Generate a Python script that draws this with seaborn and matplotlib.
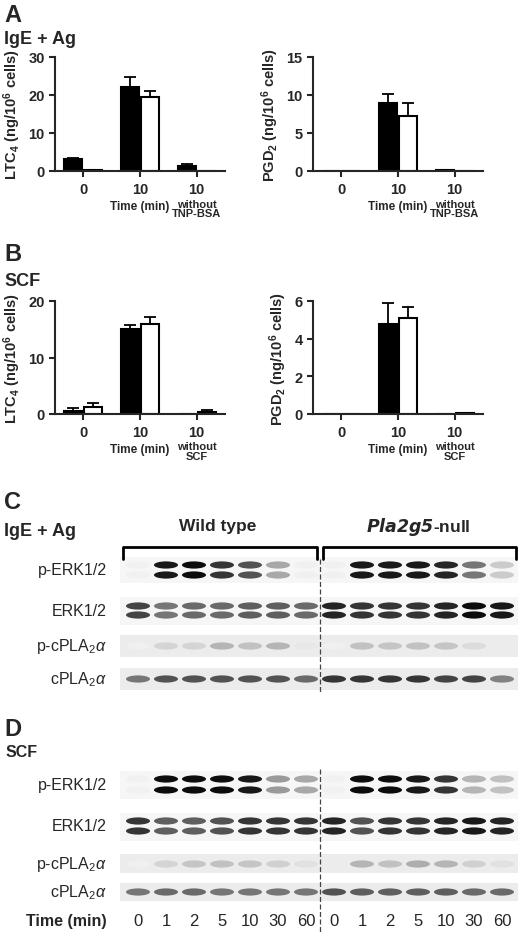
import matplotlib
matplotlib.use("Agg")
import matplotlib.pyplot as plt
import numpy as np
import pandas as pd
import seaborn as sns
from matplotlib.path import Path

# ---- bar chart data ----
groups = ["0", "10", "10 w/o"]
genotypes = ["WT", "null"]

ltc4_ige = [3.2, 22.0, 1.3]
ltc4_ige_null = [0.2, 19.5, 0.0]
ltc4_ige_err = [0.3, 2.8, 0.5]
ltc4_ige_null_err = [0.0, 1.6, 0.0]

pgd2_ige = [0.0, 9.0, 0.1]
pgd2_ige_null = [0.0, 7.3, 0.0]
pgd2_ige_err = [0.0, 1.1, 0.0]
pgd2_ige_null_err = [0.0, 1.6, 0.0]

ltc4_scf = [0.6, 15.0, 0.0]
ltc4_scf_null = [1.3, 16.0, 0.4]
ltc4_scf_err = [0.5, 0.7, 0.0]
ltc4_scf_null_err = [0.6, 1.1, 0.3]

pgd2_scf = [0.0, 4.8, 0.0]
pgd2_scf_null = [0.0, 5.1, 0.05]
pgd2_scf_err = [0.0, 1.1, 0.0]
pgd2_scf_null_err = [0.0, 0.6, 0.0]

# ---- blot data (band intensity 0..1, 14 lanes: WT 7 + null 7) ----
time_labels = ["0", "1", "2", "5", "10", "30", "60"] * 2

c_perk = [0.02, 0.95, 1.0, 0.85, 0.75, 0.4, 0.03, 0.03, 0.95, 0.95, 0.95, 0.9, 0.6, 0.25]
c_erk = [0.8, 0.6, 0.65, 0.65, 0.7, 0.7, 0.65, 0.9, 0.85, 0.85, 0.85, 0.9, 1.0, 0.95]
c_pcpla = [0.03, 0.2, 0.2, 0.35, 0.3, 0.35, 0.08, 0.03, 0.3, 0.28, 0.3, 0.28, 0.15, 0.05]
c_cpla = [0.6, 0.75, 0.75, 0.75, 0.75, 0.75, 0.65, 0.85, 0.85, 0.85, 0.85, 0.8, 0.8, 0.55]

d_perk = [0.02, 1.0, 1.0, 1.0, 0.95, 0.45, 0.4, 0.02, 1.0, 1.0, 0.95, 0.85, 0.35, 0.3]
d_erk = [0.85, 0.7, 0.7, 0.75, 0.85, 0.85, 0.85, 0.9, 0.75, 0.85, 0.85, 0.9, 0.95, 0.9]
d_pcpla = [0.03, 0.2, 0.28, 0.3, 0.28, 0.22, 0.12, 0.05, 0.35, 0.3, 0.38, 0.35, 0.22, 0.12]
d_cpla = [0.6, 0.65, 0.65, 0.6, 0.6, 0.6, 0.6, 0.75, 0.7, 0.7, 0.7, 0.7, 0.65, 0.65]

W, H = 520, 945
FONT = ["Liberation Sans", "DejaVu Sans"]

sns.set_theme(style="ticks")
plt.rcParams["font.family"] = FONT
plt.rcParams["mathtext.fontset"] = "custom"
plt.rcParams["mathtext.rm"] = "Liberation Sans"
plt.rcParams["mathtext.bf"] = "Liberation Sans:bold"
plt.rcParams["mathtext.it"] = "Liberation Sans:italic"

fig = plt.figure(figsize=(W / 100, H / 100), dpi=100)
fig.patch.set_facecolor("white")


def px_axes(x0, y0, x1, y1):
    return fig.add_axes([x0 / W, 1 - y1 / H, (x1 - x0) / W, (y1 - y0) / H])


def ftext(x, y, s, **kw):
    fig.text(x / W, 1 - y / H, s, **kw)


def bar_panel(box, wt, null, wt_err, null_err, ymax, yticks, ylabel, cond):
    ax = px_axes(*box)
    df = pd.DataFrame({
        "group": groups * 2,
        "genotype": [genotypes[0]] * 3 + [genotypes[1]] * 3,
        "value": list(wt) + list(null),
    })
    sns.barplot(data=df, x="group", y="value", hue="genotype",
                palette=["black", "white"], edgecolor="black", linewidth=1.5,
                width=0.7, gap=0.1, errorbar=None, legend=False, ax=ax)
    errs = list(wt_err) + list(null_err)
    vals = list(wt) + list(null)
    for p, v, e in zip(ax.patches, vals, errs):
        if e > 0:
            cx = p.get_x() + p.get_width() / 2
            ax.errorbar(cx, v, yerr=[[0], [e]], color="black", capsize=4,
                        elinewidth=1.3, capthick=1.3)
    ax.set_xlim(-0.5, 2.5)
    ax.set_ylim(0, ymax)
    ax.set_yticks(yticks)
    ax.set_xticks([0, 1, 2], ["0", "10", "10"])
    ax.set_xlabel("")
    ax.set_ylabel(ylabel, fontsize=10.5, fontweight="bold")
    ax.tick_params(labelsize=10.5, width=1.5, length=4)
    ax.tick_params(axis="x", pad=4)
    for lab in ax.get_xticklabels() + ax.get_yticklabels():
        lab.set_fontweight("bold")
    sns.despine(ax=ax)
    for s in ("left", "bottom"):
        ax.spines[s].set_linewidth(1.5)
    ax.text(1, -0.31, "Time (min)", transform=ax.get_xaxis_transform(),
            ha="center", va="center", fontsize=8.5, fontweight="bold")
    ax.text(2, -0.33, "without\n" + cond, transform=ax.get_xaxis_transform(),
            ha="center", va="center", fontsize=8, fontweight="bold", linespacing=0.95)
    return ax


ltc_lab = r"LTC$_\mathbf{4}$ (ng/10$^\mathbf{6}$ cells)"
pgd_lab = r"PGD$_\mathbf{2}$ (ng/10$^\mathbf{6}$ cells)"

ftext(4, 15, "A", fontsize=17, fontweight="bold", va="center")
ftext(4, 40, "IgE + Ag", fontsize=13, fontweight="bold", va="center")
bar_panel((55, 58, 225, 172), ltc4_ige, ltc4_ige_null, ltc4_ige_err, ltc4_ige_null_err,
          30, [0, 10, 20, 30], ltc_lab, "TNP-BSA")
bar_panel((313, 58, 483, 172), pgd2_ige, pgd2_ige_null, pgd2_ige_err, pgd2_ige_null_err,
          15, [0, 5, 10, 15], pgd_lab, "TNP-BSA")

ftext(4, 255, "B", fontsize=17, fontweight="bold", va="center")
ftext(4, 282, "SCF", fontsize=13, fontweight="bold", va="center")
bar_panel((55, 302, 225, 415), ltc4_scf, ltc4_scf_null, ltc4_scf_err, ltc4_scf_null_err,
          20, [0, 10, 20], ltc_lab, "SCF")
bar_panel((313, 302, 483, 415), pgd2_scf, pgd2_scf_null, pgd2_scf_err, pgd2_scf_null_err,
          6, [0, 2, 4, 6], pgd_lab, "SCF")

# ---- blots ----
circ = Path.unit_circle()
ellipse = Path(circ.vertices * np.array([1.0, 0.3]), circ.codes)
X0, X1, LANE0, STEP = 120, 518, 138, 28.0
bx = px_axes(X0, 540, X1, 940)
bx.set_xlim((X0 - LANE0) / STEP, (X1 - LANE0) / STEP)
bx.set_ylim(940, 540)
bx.axis("off")
lanes = np.arange(14)


def blot_panel(rows, data):
    for (name, ypos), vals in zip(rows, data):
        bg = "#ececec" if "cPLA" in name else "#f6f6f6"
        bx.axhspan(ypos[0], ypos[1], color=bg, zorder=0, lw=0)
        for yy in ypos[2:]:
            bx.scatter(lanes, [yy] * len(vals), c=vals, cmap="Greys", vmin=-0.12, vmax=1.05,
                       marker=ellipse, s=300, linewidths=0, zorder=2)
        ftext(107, (ypos[2] + ypos[-1]) / 2, name, ha="right", va="center", fontsize=11.5)


# rows: (label, (bg top, bg bottom, band y...))
c_rows = [("p-ERK1/2", (558, 584, 566, 576)),
          ("ERK1/2", (598, 626, 607, 616)),
          (r"p-cPLA$_2\alpha$", (636, 658, 647)),
          (r"cPLA$_2\alpha$", (669, 691, 680))]
d_rows = [("p-ERK1/2", (772, 800, 780, 791)),
          ("ERK1/2", (814, 842, 822, 832)),
          (r"p-cPLA$_2\alpha$", (855, 874, 865)),
          (r"cPLA$_2\alpha$", (884, 902, 893))]

ftext(4, 503, "C", fontsize=17, fontweight="bold", va="center")
ftext(4, 531, "IgE + Ag", fontsize=13, fontweight="bold", va="center")
ftext(218, 527, "Wild type", fontsize=12.5, fontweight="bold", ha="center", va="center")
ftext(418, 527, "$\\mathbfit{Pla2g5}$-null", fontsize=12.5, fontweight="bold",
      ha="center", va="center")
for a, b in ((-0.55, 6.4), (6.6, 13.5)):
    bx.plot([a, a, b, b], [560, 548, 548, 560], color="black", lw=2, zorder=3)
blot_panel(c_rows, [c_perk, c_erk, c_pcpla, c_cpla])
bx.plot([6.5, 6.5], [560, 695], color="#444444", lw=0.9, ls=(0, (4, 2)), zorder=3)

ftext(4, 730, "D", fontsize=17, fontweight="bold", va="center")
ftext(6, 753, "SCF", fontsize=11.5, fontweight="bold", va="center")
blot_panel(d_rows, [d_perk, d_erk, d_pcpla, d_cpla])
bx.plot([6.5, 6.5], [770, 935], color="#444444", lw=0.9, ls=(0, (4, 2)), zorder=3)

ftext(107, 922, "Time (min)", ha="right", va="center", fontsize=11.5, fontweight="bold")
for i, t in zip(lanes, time_labels):
    bx.text(i, 922, t, ha="center", va="center", fontsize=12)

fig.savefig("out.png", dpi=100, facecolor="white")
